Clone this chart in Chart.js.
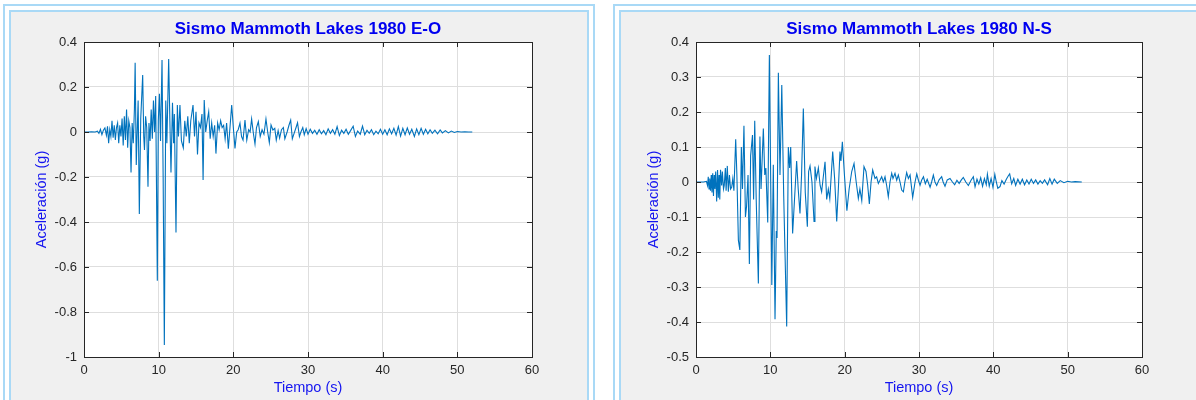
<!DOCTYPE html>
<html lang="es">
<head>
<meta charset="utf-8">
<title>Sismo Mammoth Lakes 1980</title>
<script src="https://cdn.jsdelivr.net/npm/chart.js@4.4.1/dist/chart.umd.min.js"></script>
<style>
  html, body { margin: 0; padding: 0; background: #ffffff; }
  body { position: relative; width: 1196px; height: 400px; overflow: hidden; }
  .panel {
    position: absolute; top: 4px; box-sizing: border-box; height: 420px;
    border: 2px solid #a9d9f6; padding: 4px; background: #ffffff;
  }
  .panel .inner { width: 100%; height: 100%; box-sizing: border-box; border: 2px solid #a9d9f6; background: #f0f0f0; }
  #panelEO { left: 3px; width: 592px; }
  #panelNS { left: 613px; width: 600px; }
  canvas { position: absolute; top: 12px; }
  #chartEO { left: 12px; }
  #chartNS { left: 621px; }
</style>
</head>
<body>
<div class="panel" id="panelEO"><div class="inner"></div></div>
<div class="panel" id="panelNS"><div class="inner"></div></div>
<canvas id="chartEO" width="574" height="388"></canvas>
<canvas id="chartNS" width="575" height="388"></canvas>

<script>
// Registro E-O: tiempo (s) y aceleración (g)
const tiempoEO = [
  0, 0.5, 1.0, 1.5, 1.8, 2.0, 2.2, 2.4, 2.6, 2.8,
  3.0, 3.15, 3.3, 3.45, 3.6, 3.75, 3.9, 4.05, 4.2, 4.35,
  4.5, 4.65, 4.8, 4.95, 5.1, 5.25, 5.4, 5.55, 5.7, 5.85,
  6.0, 6.15, 6.3, 6.45, 6.6, 6.75, 6.85, 7.0, 7.15, 7.25,
  7.41, 7.6, 7.86, 8.0, 8.1, 8.25, 8.4, 8.57, 8.7, 8.85,
  9.0, 9.15, 9.3, 9.45, 9.6, 9.82, 9.95, 10.1, 10.25, 10.45,
  10.6, 10.76, 10.95, 11.1, 11.34, 11.5, 11.65, 11.85, 12.0, 12.1,
  12.32, 12.5, 12.65, 12.85, 13.05, 13.3, 13.5, 13.7, 13.9, 14.1,
  14.3, 14.6, 14.8, 15.0, 15.2, 15.4, 15.6, 15.8, 15.95, 16.1,
  16.3, 16.5, 16.7, 16.9, 17.1, 17.3, 17.5, 17.67, 17.9, 18.1,
  18.3, 18.5, 18.7, 18.9, 19.1, 19.33, 19.55, 19.78, 20.0, 20.22,
  20.45, 20.65, 20.89, 21.1, 21.3, 21.56, 21.8, 22.05, 22.25, 22.45,
  22.7, 22.9, 23.1, 23.35, 23.6, 23.85, 24.1, 24.37, 24.6, 24.82,
  25.05, 25.3, 25.55, 25.75, 26.0, 26.2, 26.45, 26.7, 26.9, 27.2,
  27.45, 27.68, 27.9, 28.15, 28.4, 28.6, 28.85, 29.05, 29.3, 29.5,
  29.75, 30.0, 30.3, 30.6, 30.9, 31.2, 31.5, 31.8, 32.1, 32.4,
  32.7, 33.0, 33.3, 33.6, 33.9, 34.2, 34.5, 34.8, 35.1, 35.4,
  35.7, 36.05, 36.35, 36.65, 37.0, 37.3, 37.6, 37.9, 38.2, 38.5,
  38.8, 39.1, 39.4, 39.7, 40.0, 40.3, 40.6, 40.9, 41.2, 41.5,
  41.8, 42.1, 42.4, 42.7, 43.0, 43.3, 43.6, 43.9, 44.25, 44.55,
  44.85, 45.15, 45.45, 45.75, 46.05, 46.35, 46.65, 47.0, 47.35, 47.7,
  48.0, 48.4, 48.8, 49.2, 49.6, 50.0, 50.5, 51.0, 51.5, 52.0
];
const acelEO = [
  0, 0, 0.001, 0, 0.004, -0.006, 0.012, -0.012, 0.008, 0.018,
  -0.015, 0.025, -0.05, 0.01, -0.02, 0.05, -0.025, 0.03, -0.035, 0.02,
  0.04, -0.05, 0.03, -0.02, 0.06, -0.06, 0.07, -0.035, 0.1, -0.07,
  0.05, 0.02, -0.18, 0.04, -0.05, 0.1, 0.308, -0.147, 0.03, 0.14,
  -0.364, 0.06, 0.253, -0.02, -0.08, 0.07, 0.02, -0.243, 0.04, -0.04,
  0.1, -0.03, 0.14, 0.0, 0.16, -0.661, 0.05, 0.17, -0.04, 0.32,
  -0.2, -0.947, 0.14, -0.05, 0.324, 0.05, -0.18, 0.13, -0.05, 0.08,
  -0.447, 0.12, -0.02, 0.12, -0.04, -0.07, 0.05, -0.02, 0.07, -0.05,
  0.05, 0.12, -0.02, 0.09, -0.1, 0.04, 0.02, 0.08, -0.213, 0.142,
  0.0, 0.05, 0.09, -0.03, 0.04, -0.02, 0.03, -0.096, 0.04, 0.01,
  0.05, 0.02, 0.03, -0.03, 0.04, -0.074, 0.02, 0.12, 0.02, -0.073,
  0.0, 0.01, 0.039, -0.02, -0.036, 0.053, -0.036, 0.01, 0.0, 0.058,
  -0.01, -0.053, 0.02, 0.046, -0.02, 0.01, -0.01, 0.058, 0.0, -0.047,
  0.031, 0.009, 0.016, -0.036, 0.006, -0.027, 0.01, 0.02, -0.03, 0.0,
  0.03, 0.053, -0.03, -0.005, 0.02, 0.041, -0.02, 0.0, 0.02, -0.012,
  0.015, -0.01, 0.012, -0.006, 0.008, -0.01, 0.01, -0.008, 0.006, -0.012,
  0.014, -0.006, 0.01, -0.01, 0.024, -0.016, 0.008, -0.006, 0.012, -0.01,
  0.006, 0.026, -0.02, 0.004, -0.01, 0.026, -0.012, 0.008, -0.006, 0.01,
  -0.012, 0.004, -0.008, 0.012, -0.01, 0.01, -0.012, 0.014, -0.008, 0.016,
  -0.014, 0.024, -0.018, 0.016, -0.012, 0.018, -0.01, 0.012, -0.02, 0.014,
  -0.012, 0.016, -0.01, 0.012, -0.008, 0.01, -0.006, 0.008, -0.008, 0.009,
  -0.004, 0.006, -0.004, 0.004, -0.002, 0.002, 0, 0.001, 0, 0
];

// Registro N-S
const tiempoNS = [
  0, 1.0, 1.4, 1.55, 1.65, 1.75, 1.85, 1.95, 2.05, 2.15,
  2.25, 2.35, 2.45, 2.55, 2.65, 2.78, 2.9, 3.0, 3.1, 3.2,
  3.3, 3.45, 3.55, 3.7, 3.8, 3.95, 4.05, 4.21, 4.35, 4.5,
  4.65, 4.8, 4.95, 5.1, 5.34, 5.5, 5.7, 5.9, 6.1, 6.25,
  6.45, 6.65, 6.8, 7.0, 7.18, 7.35, 7.6, 7.75, 7.9, 8.1,
  8.39, 8.6, 8.75, 9.06, 9.25, 9.4, 9.65, 9.87, 10.2, 10.4,
  10.63, 10.8, 10.9, 11.08, 11.3, 11.54, 11.8, 12.2, 12.42, 12.6,
  12.74, 13.0, 13.2, 13.54, 13.75, 13.99, 14.2, 14.44, 14.7, 14.98,
  15.15, 15.34, 15.6, 15.88, 16.0, 16.2, 16.46, 16.7, 16.9, 17.1,
  17.36, 17.58, 17.8, 18.0, 18.39, 18.65, 18.93, 19.15, 19.37, 19.5,
  19.69, 20.0, 20.3, 20.6, 20.95, 21.26, 21.55, 21.84, 22.05, 22.3,
  22.6, 22.87, 23.1, 23.32, 23.55, 23.77, 24.08, 24.3, 24.53, 24.75,
  24.98, 25.2, 25.43, 25.65, 25.87, 26.1, 26.33, 26.5, 26.77, 27.0,
  27.22, 27.45, 27.67, 27.9, 28.1, 28.34, 28.57, 28.8, 29.15, 29.47,
  29.7, 29.92, 30.14, 30.35, 30.6, 30.85, 31.1, 31.49, 31.7, 31.93,
  32.15, 32.38, 32.7, 33.05, 33.25, 33.5, 33.8, 34.17, 34.5, 34.8,
  35.1, 35.4, 35.7, 35.96, 36.3, 36.64, 37.0, 37.31, 37.54, 37.8,
  38.05, 38.3, 38.55, 38.8, 39.05, 39.2, 39.45, 39.7, 39.95, 40.2,
  40.4, 40.6, 40.9, 41.15, 41.45, 41.75, 42.0, 42.2, 42.47, 42.75,
  43.0, 43.3, 43.6, 43.9, 44.2, 44.5, 44.8, 45.1, 45.4, 45.7,
  46.0, 46.3, 46.6, 46.9, 47.3, 47.6, 47.9, 48.2, 48.6, 49.0,
  49.5, 50.0, 50.5, 51.0, 51.9
];
const acelNS = [
  0, 0, 0.002, -0.01, 0.015, -0.02, 0.01, -0.025, 0.02, -0.03,
  0.025, -0.04, 0.02, -0.02, 0.03, -0.056, 0.034, -0.045, 0.02, -0.05,
  0.035, -0.01, 0.03, -0.02, -0.01, 0.04, -0.025, 0.046, -0.028, 0.02,
  -0.02, -0.015, 0.01, -0.025, 0.122, 0.02, -0.166, -0.194, 0.1, -0.02,
  0.161, -0.1, -0.07, 0.02, -0.234, 0.075, 0.134, -0.05, 0.175, -0.05,
  -0.29, 0.13, -0.02, 0.153, 0.02, 0.04, -0.116, 0.363, -0.294, 0.049,
  -0.392, -0.14, -0.16, 0.312, 0.02, 0.277, -0.04, -0.413, 0.1, 0.04,
  0.1, -0.147, -0.07, 0.06, -0.02, -0.09, 0.02, 0.21, -0.03, -0.128,
  0.03, 0.046, 0.0, -0.113, 0.044, 0.01, 0.04, -0.01, -0.028, 0.01,
  0.058, -0.05, -0.02, -0.048, 0.087, 0.01, -0.113, -0.02, 0.087, 0.06,
  0.115, 0.01, -0.082, -0.02, 0.03, 0.053, 0.0, -0.047, -0.02, -0.053,
  0.044, 0.03, -0.01, -0.063, 0.0, 0.034, 0.01, 0.015, -0.004, 0.005,
  0.015, 0.0, 0.015, -0.01, -0.042, 0.0, 0.025, 0.01, 0.025, 0.005,
  0.02, 0.0, -0.023, -0.028, 0.0, 0.027, 0.01, 0.02, -0.044, 0.0,
  0.023, 0.005, -0.009, 0.005, 0.015, -0.005, 0.008, -0.015, 0.0, 0.02,
  0.0, -0.01, 0.006, 0.015, 0.0, -0.012, 0.006, 0.01, 0.0, -0.008,
  0.005, -0.004, 0.006, 0.013, 0.0, -0.01, 0.005, 0.015, -0.014, 0.008,
  -0.006, 0.012, -0.012, 0.01, -0.008, 0.022, -0.012, 0.01, -0.015, 0.022,
  0.0, -0.018, -0.013, 0.004, -0.006, 0.008, 0.017, 0.023, -0.005, 0.01,
  -0.01, 0.008, -0.006, 0.008, -0.008, 0.006, -0.006, 0.008, -0.004, 0.006,
  -0.006, 0.004, -0.004, 0.006, -0.008, 0.01, -0.006, 0.008, -0.004, 0.004,
  -0.002, 0.002, 0.0, 0.001, 0.0
];

// Marcas de los ejes
const ticksTiempo = [0, 10, 20, 30, 40, 50, 60];
const ticksAcelEO = [-1, -0.8, -0.6, -0.4, -0.2, 0, 0.2, 0.4];
const ticksAcelNS = [-0.5, -0.4, -0.3, -0.2, -0.1, 0, 0.1, 0.2, 0.3, 0.4];

const FONT = '"Liberation Sans", Arial, Helvetica, sans-serif';
const AXIS_DARK = '#262626';
const GRID = '#dedede';
const LINE_BLUE = '#0072bd';
const LABEL_BLUE = '#1515f0';

// white plot background + MATLAB-style box with inward ticks
const boxPlugin = {
  id: 'matlabBox',
  beforeDraw(chart) {
    const a = chart.chartArea;
    const ctx = chart.ctx;
    ctx.save();
    ctx.fillStyle = '#ffffff';
    ctx.fillRect(a.left, a.top, a.right - a.left, a.bottom - a.top);
    ctx.restore();
  },
  afterDraw(chart) {
    const a = chart.chartArea;
    const ctx = chart.ctx;
    const len = 5;
    ctx.save();
    ctx.strokeStyle = AXIS_DARK;
    ctx.lineWidth = 1;
    ctx.beginPath();
    chart.scales.x.ticks.forEach(t => {
      const px = Math.round(chart.scales.x.getPixelForValue(t.value)) + 0.5;
      ctx.moveTo(px, a.bottom); ctx.lineTo(px, a.bottom - len);
      ctx.moveTo(px, a.top); ctx.lineTo(px, a.top + len);
    });
    chart.scales.y.ticks.forEach(t => {
      const py = Math.round(chart.scales.y.getPixelForValue(t.value)) + 0.5;
      ctx.moveTo(a.left, py); ctx.lineTo(a.left + len, py);
      ctx.moveTo(a.right, py); ctx.lineTo(a.right - len, py);
    });
    ctx.stroke();
    ctx.strokeRect(Math.round(a.left) + 0.5, Math.round(a.top) + 0.5,
      Math.round(a.right - a.left), Math.round(a.bottom - a.top));
    ctx.restore();
  }
};

function makeChart(id, titulo, tiempo, acel, yTicks, yWidth, yTitlePad) {
  const puntos = tiempo.map((t, i) => ({ x: t, y: acel[i] }));
  return new Chart(document.getElementById(id), {
    type: 'line',
    data: {
      datasets: [{
        data: puntos,
        borderColor: LINE_BLUE,
        borderWidth: 1.1,
        pointRadius: 0,
        tension: 0,
        fill: false
      }]
    },
    options: {
      responsive: false,
      animation: false,
      events: [],
      layout: { padding: { left: 0, right: 54, top: 0, bottom: 0 } },
      plugins: {
        legend: { display: false },
        tooltip: { enabled: false },
        title: {
          display: true,
          text: titulo,
          fullSize: false,
          color: '#0000f0',
          font: { family: FONT, size: 17, weight: 'bold', lineHeight: 1.0 },
          padding: { top: 9, bottom: 4 }
        }
      },
      scales: {
        x: {
          type: 'linear',
          min: 0,
          max: 60,
          afterBuildTicks: s => { s.ticks = ticksTiempo.map(v => ({ value: v })); },
          afterFit: s => { s.height = 43; s.paddingLeft = 0; s.paddingRight = 0; },
          grid: { color: GRID, drawTicks: false },
          border: { display: false },
          ticks: {
            color: AXIS_DARK, padding: 6, maxRotation: 0,
            font: { family: FONT, size: 13 },
            callback: v => String(v)
          },
          title: {
            display: true, text: 'Tiempo (s)', color: LABEL_BLUE,
            font: { family: FONT, size: 14.5 },
            padding: { top: 0, bottom: 3 }
          }
        },
        y: {
          type: 'linear',
          min: yTicks[0],
          max: yTicks[yTicks.length - 1],
          afterBuildTicks: s => { s.ticks = yTicks.map(v => ({ value: v })); },
          afterFit: s => { s.width = yWidth; s.paddingTop = 0; s.paddingBottom = 0; },
          grid: { color: GRID, drawTicks: false },
          border: { display: false },
          ticks: {
            color: AXIS_DARK, padding: 7,
            font: { family: FONT, size: 13 },
            callback: v => String(Math.round(v * 10) / 10)
          },
          title: {
            display: true, text: 'Aceleración (g)', color: LABEL_BLUE,
            font: { family: FONT, size: 14.5 },
            padding: { top: yTitlePad, bottom: 0 }
          }
        }
      }
    },
    plugins: [boxPlugin]
  });
}

makeChart('chartEO', 'Sismo Mammoth Lakes 1980 E-O', tiempoEO, acelEO, ticksAcelEO, 72, 21);
makeChart('chartNS', 'Sismo Mammoth Lakes 1980 N-S', tiempoNS, acelNS, ticksAcelNS, 75, 24);
</script>
</body>
</html>
